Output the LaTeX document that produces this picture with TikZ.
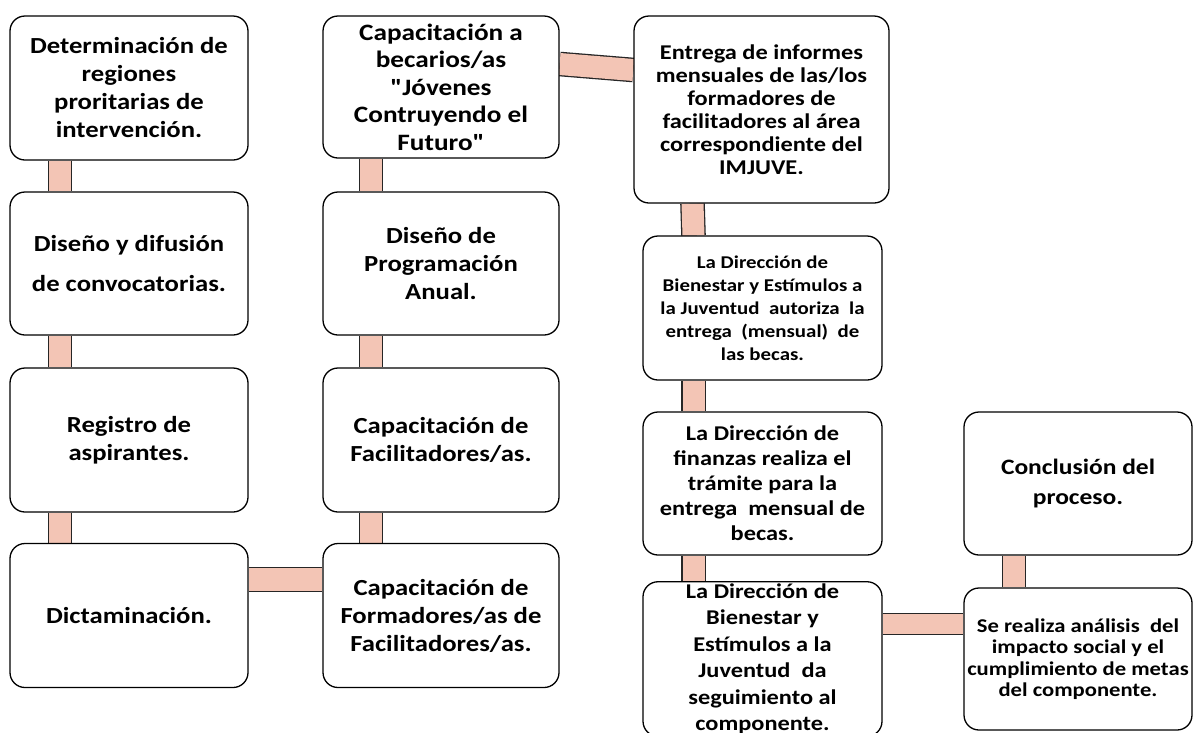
\documentclass[tikz,border=0pt]{standalone}
\usepackage{fontspec}
\setmainfont{Carlito}[FakeStretch=1.16,Ligatures=TeXOff]
\usepackage{xcolor}
\usetikzlibrary{backgrounds}

\begin{document}
\begin{tikzpicture}[x=1pt,y=-1pt,
  caja/.style={draw=black,line width=1.3pt,rounded corners=15pt,fill=white,align=center,inner sep=2pt,font=\bfseries\fontsize{23}{28}\selectfont},
  barra/.style={draw=black!85,line width=1.3pt,double=rosa,double distance=22pt}]
\definecolor{rosa}{HTML}{F3C5B5}
\useasboundingbox (0,0) rectangle (1193,732);
% columna 1
\node [caja,minimum width=238,minimum height=144] (b1) at (129,88) {Determinación de\\regiones\\proritarias de\\intervención.};
\node [caja,minimum width=238,minimum height=143,font=\bfseries\fontsize{23}{40}\selectfont] (b2) at (129,263.5) {Diseño y difusión\\de convocatorias.};
\node [caja,minimum width=238,minimum height=144] (b3) at (129,440) {Registro de\\aspirantes.};
\node [caja,minimum width=238,minimum height=144] (b4) at (129,615.5) {Dictaminación.};
% columna 2
\node [caja,minimum width=236,minimum height=142,font=\bfseries\fontsize{23.5}{27.5}\selectfont] (c1) at (441,87) {Capacitación a\\becarios/as\\"Jóvenes\\Contruyendo el\\Futuro"};
\node [caja,minimum width=236,minimum height=143] (c2) at (441,263.5) {Diseño de\\Programación\\Anual.};
\node [caja,minimum width=236,minimum height=144] (c3) at (441,440) {Capacitación de\\Facilitadores/as.};
\node [caja,minimum width=236,minimum height=144] (c4) at (441,615.5) {Capacitación de\\Formadores/as de\\Facilitadores/as.};
% columna 3
\node [caja,minimum width=255,minimum height=187,font=\bfseries\fontsize{21}{23}\selectfont] (d1) at (761.5,109.5) {Entrega de informes\\mensuales de las/los\\formadores de\\facilitadores al área\\correspondiente del\\IMJUVE.};
\node [caja,minimum width=239,minimum height=144,font=\bfseries\fontsize{18}{23}\selectfont] (d2) at (762.5,308) {La Dirección de\\Bienestar y Estímulos a\\la Juventud\ \ autoriza\ \ la\\entrega\ \ (mensual)\ \ de\\las becas.};
\node [caja,minimum width=239,minimum height=143,font=\bfseries\fontsize{21}{25}\selectfont] (d3) at (762.5,483.5) {La Dirección de\\finanzas realiza el\\trámite para la\\entrega\ \ mensual de\\becas.};
\node [caja,minimum width=239,minimum height=142,font=\bfseries\fontsize{21}{26.5}\selectfont] (d4) at (762.5,659) {La Dirección de\\Bienestar y\\Estímulos a la\\Juventud\ \ da\\seguimiento al\\componente.};
% columna 4
\node [caja,minimum width=228,minimum height=143,font=\bfseries\fontsize{22}{30}\selectfont] (e1) at (1078,483.5) {Conclusión del\\proceso.};
\node [caja,minimum width=228,minimum height=142,font=\bfseries\fontsize{19.5}{21.5}\selectfont] (e2) at (1078,659) {Se realiza análisis\ \ del\\impacto social y el\\cumplimiento de metas\\del componente.};
% barras
\begin{scope}[on background layer]
  \foreach \a/\b in {b1/b2,b2/b3,b3/b4}
    {\draw [barra] ([xshift=-69pt]\a.south) -- ([xshift=-69pt]\b.north);}
  \foreach \a/\b in {c1/c2,c2/c3,c3/c4}
    {\draw [barra] ([xshift=-70pt]\a.south) -- ([xshift=-70pt]\b.north);}
  \foreach \a/\b in {d1/d2,d2/d3,d3/d4}
    {\draw [barra] ([xshift=-69pt]\a.south) -- ([xshift=-69pt]\b.north);}
  \draw [barra] ([xshift=-64pt]e1.south) -- ([xshift=-64pt]e2.north);
  \draw [barra,double distance=23pt] ([yshift=36pt]b4.east) -- ([yshift=36pt]c4.west);
  \draw [barra] ([yshift=23pt]c1.east) -- ([yshift=39.5pt]d1.west);
  \draw [barra,double distance=20pt] ([yshift=35pt]d4.east) -- ([yshift=35pt]e2.west);
\end{scope}
\end{tikzpicture}
\end{document}
